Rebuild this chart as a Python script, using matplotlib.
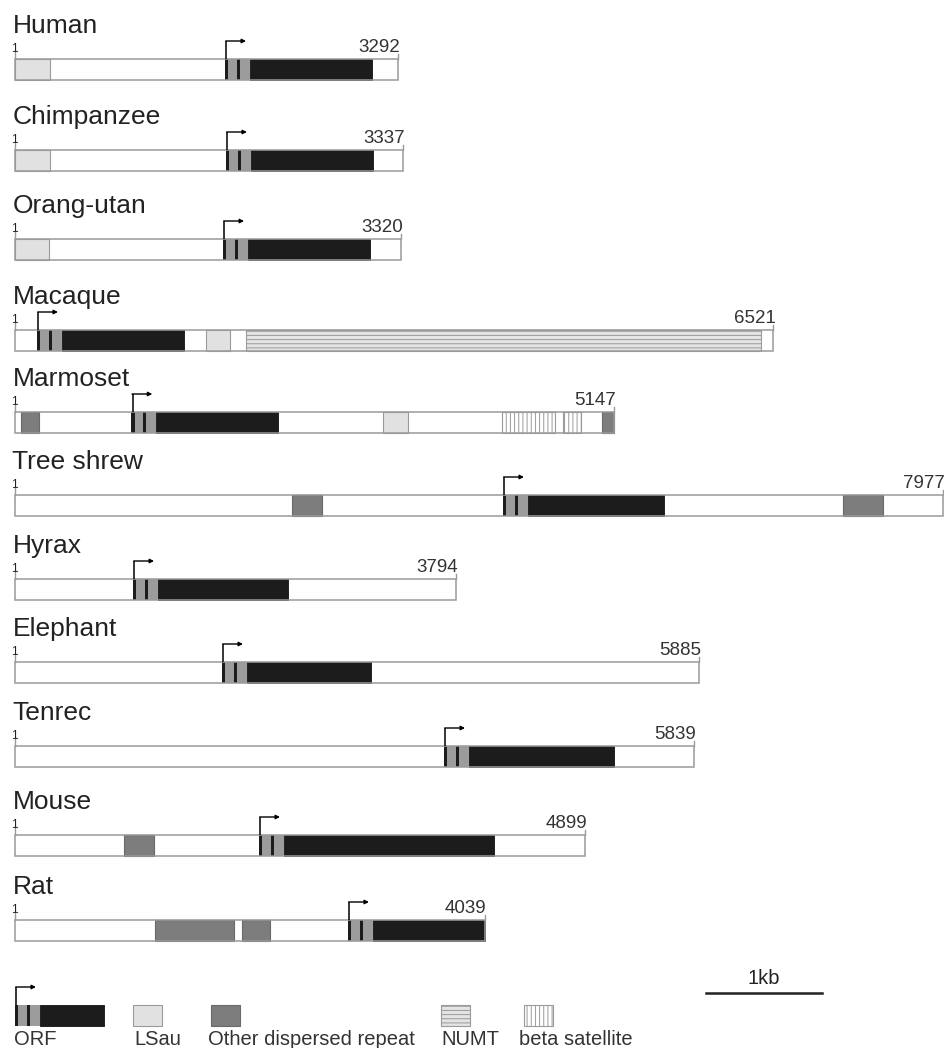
import matplotlib
matplotlib.use("Agg")
import matplotlib.pyplot as plt
from matplotlib.patches import Rectangle

plt.rcParams["font.family"] = ["Liberation Sans", "DejaVu Sans"]
plt.rcParams["hatch.linewidth"] = 0.7

# transcript maps, coordinates in bp
species = ["Human", "Chimpanzee", "Orang-utan", "Macaque", "Marmoset", "Tree shrew",
           "Hyrax", "Elephant", "Tenrec", "Mouse", "Rat"]
lengths = [3292, 3337, 3320, 6521, 5147, 7977, 3794, 5885, 5839, 4899, 4039]
orf_start = [1806, 1814, 1789, 189, 1000, 4196, 1015, 1780, 3689, 2098, 2863]
orf_end = [3070, 3078, 3052, 1453, 2265, 5580, 2347, 3061, 5150, 4119, 4039]
lsau = [[(0, 300)], [(0, 300)], [(0, 295)], [(1642, 1849)], [(3160, 3375)],
        [], [], [], [], [], []]
other_repeat = [[], [], [], [], [(52, 204), (5050, 5147)], [(2382, 2640), (7119, 7463)],
                [], [], [], [(937, 1195)], [(1204, 1883), (1952, 2193)]]
numt = [[], [], [], [(1986, 6414)], [], [], [], [], [], [], []]
beta_sat = [[], [], [], [], [(4185, 4640), (4710, 4870)], [], [], [], [], [], []]

# layout (pixel rows of each box top)
box_top = [59, 150, 239, 330, 412, 495, 579, 662, 746, 835, 920]
BOX_H = 21
PX_PER_BP = 0.1163
X0 = 15

C_ORF = "#1c1c1c"
C_STRIPE = "#9c9c9c"
C_LSAU = "#e1e1e1"
C_REP = "#7d7d7d"
C_EDGE = "#9a9a9a"


def bp(px):
    return px / PX_PER_BP


fig = plt.figure(figsize=(9.45, 10.48), dpi=100)
ax = fig.add_axes([0, 0, 1, 1])
ax.set_xlim(-X0 / PX_PER_BP, (945 - X0) / PX_PER_BP)
ax.set_ylim(1048, 0)
ax.axis("off")


def block(x0, x1, top, **kw):
    ax.add_patch(Rectangle((x0, top), x1 - x0, BOX_H, **kw))


def tss_arrow(s, top):
    ya = top - 18
    ax.plot([s + 12, s + 12], [top, ya], color="k", lw=1.1, solid_capstyle="butt")
    ax.annotate("", xy=(s + bp(21), ya), xytext=(s + 6, ya),
                arrowprops=dict(arrowstyle="-|>", color="k", lw=1.0,
                                mutation_scale=6, shrinkA=0, shrinkB=0))


def draw_orf(s, e, top, arrow=True):
    # start codon region: thin black, grey, thin black, grey, then coding block
    parts = [(0, 29, C_ORF), (29, 100, C_STRIPE), (100, 129, C_ORF),
             (129, 215, C_STRIPE)]
    for a, b, c in parts:
        block(s + a, s + b, top, facecolor=c, edgecolor="none")
    block(s + 215, e, top, facecolor=C_ORF, edgecolor="#111111", lw=0.6)
    if arrow:
        tss_arrow(s, top)


for i, name in enumerate(species):
    top = box_top[i]
    L = lengths[i]
    ax.text(-bp(2.5), top - 26, name, fontsize=19, color="#222222", va="baseline", ha="left")
    # start / end ticks and coordinates
    ax.plot([0, 0], [top - 9, top], color=C_EDGE, lw=1)
    ax.text(-bp(1), top - 7, "1", fontsize=8.5, color="#222222", ha="center", va="baseline")
    ax.plot([L, L], [top - 5, top], color=C_EDGE, lw=1)
    ax.text(L + bp(2), top - 7, str(L), fontsize=13.5, color="#333333", ha="right", va="baseline")

    block(0, L, top, facecolor="white", edgecolor="none")
    for a, b in lsau[i]:
        block(a, b, top, facecolor=C_LSAU, edgecolor=C_EDGE, lw=0.8)
    for a, b in other_repeat[i]:
        block(a, b, top, facecolor=C_REP, edgecolor="#6a6a6a", lw=0.8)
    for a, b in numt[i]:
        block(a, b, top, facecolor="#e4e4e4", edgecolor=C_EDGE, lw=0.8,
              hatch="----")
    for a, b in beta_sat[i]:
        block(a, b, top, facecolor="white", edgecolor=C_EDGE, lw=0.8,
              hatch="||||")
    draw_orf(orf_start[i], orf_end[i], top)
    block(0, L, top, facecolor="none", edgecolor=C_EDGE, lw=1.1)

# scale bar
ax.plot([bp(706 - X0), bp(706 - X0) + 1000], [993, 993], color="#222222", lw=1.8)
ax.text(bp(706 - X0) + 500, 984, "1kb", fontsize=14.5, color="#222222", ha="center", va="baseline")

# legend
LT = 1005
draw_orf(0, bp(104 - X0), LT, arrow=False)
tss_arrow(0, LT)
legend_boxes = [
    (133, dict(facecolor=C_LSAU, edgecolor=C_EDGE)),
    (211, dict(facecolor=C_REP, edgecolor="#6a6a6a")),
    (441, dict(facecolor="#e4e4e4", edgecolor=C_EDGE, hatch="----")),
    (524, dict(facecolor="white", edgecolor=C_EDGE, hatch="||||")),
]
for px, style in legend_boxes:
    ax.add_patch(Rectangle((bp(px - X0), LT), bp(29), BOX_H, lw=0.8, **style))

legend_labels = ["ORF", "LSau", "Other dispersed repeat", "NUMT", "beta satellite"]
legend_x = [14, 134, 208, 441, 519]
for px, lab in zip(legend_x, legend_labels):
    ax.text(bp(px - X0), 1045, lab, fontsize=14.5, color="#333333", ha="left", va="baseline")

fig.savefig("out.png", dpi=100)
